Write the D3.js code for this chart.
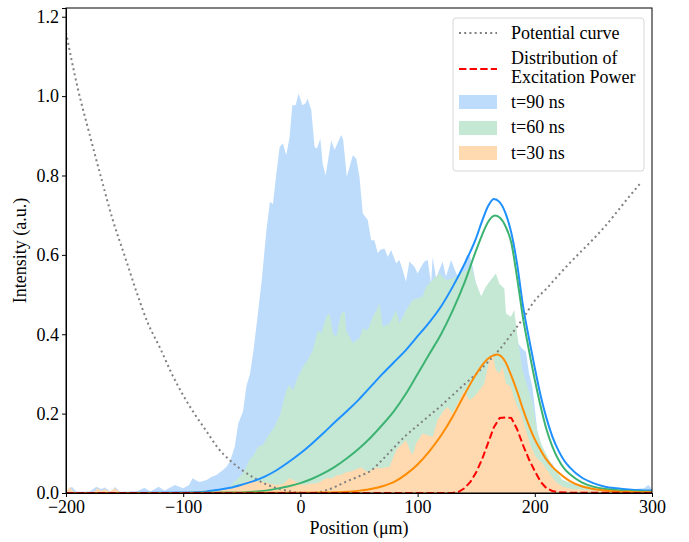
<!DOCTYPE html>
<html>
<head>
<meta charset="UTF-8">
<title>Intensity vs Position</title>
<script src="https://d3js.org/d3.v7.min.js"></script>
<style>
    body { margin: 0; padding: 0; background: #fff; }
    .tick line, .domain { stroke: #000; }
</style>
</head>
<body>
<svg id="chart" width="689" height="542"></svg>
<script>
// ---- data ----
const xTicks = [-200, -100, 0, 100, 200, 300];
const yTicks = [0.0, 0.2, 0.4, 0.6, 0.8, 1.0, 1.2];

// potential curve (dotted gray)
const potential = [[-200,1.16],[-190,1.02],[-180,0.905],[-170,0.794],[-160,0.687],[-150,0.598],[-140,0.508],
    [-130,0.427],[-120,0.367],[-110,0.302],[-100,0.246],[-90,0.198],[-80,0.155],[-70,0.112],[-60,0.082],
    [-50,0.058],[-40,0.039],[-30,0.023],[-20,0.012],[-10,0.005],[0,0.001],[10,0.0],[20,0.005],[30,0.016],
    [40,0.03],[50,0.042],[60,0.056],[70,0.084],[80,0.115],[90,0.145],[100,0.17],[110,0.195],[120,0.22],
    [130,0.247],[140,0.274],[150,0.30],[160,0.33],[170,0.362],[180,0.40],[190,0.44],[200,0.485],[210,0.515],
    [220,0.548],[230,0.58],[240,0.61],[250,0.64],[260,0.672],[270,0.708],[280,0.745],[290,0.78]];

// excitation power (red dashed)
const excitation = [[-200,0],[130,0],[135,0.003],[140,0.012],[145,0.028],[150,0.052],[155,0.085],[160,0.125],
    [165,0.165],[170,0.189],[175,0.19],[180,0.189],[185,0.16],[190,0.12],[195,0.085],[200,0.055],[205,0.028],
    [210,0.012],[215,0.005],[220,0.002],[230,0.001],[300,0]];

// fitted curves
const fit90 = [[-200,0],[-120,0.0005],[-100,0.001],[-90,0.002],[-80,0.004],[-70,0.008],[-60,0.013],[-50,0.021],
    [-40,0.03],[-30,0.042],[-20,0.058],[-10,0.078],[0,0.10],[10,0.125],[20,0.152],[30,0.18],[40,0.207],
    [50,0.236],[60,0.268],[70,0.30],[80,0.33],[90,0.36],[100,0.395],[110,0.43],[120,0.47],[130,0.52],
    [140,0.577],[150,0.643],[155,0.685],[160,0.722],[165,0.741],[170,0.733],[175,0.705],[180,0.655],
    [185,0.575],[190,0.47],[195,0.39],[200,0.315],[205,0.245],[210,0.188],[215,0.142],[220,0.108],
    [225,0.082],[230,0.064],[240,0.039],[250,0.025],[260,0.016],[270,0.012],[280,0.009],[290,0.007],[300,0.006]];

const fit60 = [[-200,0],[-100,0.0003],[-60,0.001],[-50,0.0015],[-40,0.003],[-30,0.006],[-20,0.011],[-10,0.017],
    [0,0.025],[10,0.036],[20,0.05],[30,0.067],[40,0.088],[50,0.112],[60,0.14],[70,0.172],[80,0.207],
    [90,0.25],[100,0.30],[110,0.35],[120,0.40],[130,0.46],[140,0.53],[150,0.612],[155,0.65],[160,0.682],
    [166,0.699],[170,0.694],[175,0.672],[180,0.63],[185,0.54],[190,0.44],[195,0.36],[200,0.285],
    [205,0.218],[210,0.16],[215,0.117],[220,0.085],[225,0.062],[230,0.047],[240,0.027],[250,0.016],
    [260,0.01],[270,0.007],[280,0.005],[290,0.004],[300,0.003]];

const fit30 = [[-200,0],[0,0.0005],[20,0.001],[40,0.003],[50,0.006],[60,0.01],[70,0.017],[80,0.028],[90,0.047],
    [100,0.072],[110,0.105],[120,0.145],[130,0.193],[140,0.248],[150,0.30],[160,0.338],[168,0.349],
    [175,0.33],[180,0.295],[185,0.255],[190,0.21],[195,0.17],[200,0.135],[205,0.108],[210,0.084],
    [215,0.066],[220,0.052],[225,0.04],[230,0.03],[240,0.017],[250,0.01],[260,0.006],[270,0.004],
    [280,0.003],[290,0.002],[300,0.002]];

// measured distributions (filled)
const t90 = [[-200,0.005],[-195,0.016],[-191,0.003],[-180,0.004],[-174,0.016],[-170,0.01],[-167,0.014],
    [-162,0.004],[-158,0.015],[-154,0.003],[-140,0.004],[-133,0.013],[-128,0.004],[-121,0.016],[-116,0.006],
    [-107,0.02],[-100,0.012],[-95,0.02],[-92,0.037],[-88,0.03],[-86,0.028],[-80,0.033],[-76,0.04],
    [-72,0.045],[-66,0.058],[-63,0.066],[-60,0.08],[-56,0.117],[-53,0.176],[-49,0.205],[-46,0.27],
    [-43,0.30],[-40,0.36],[-37.6,0.419],[-33,0.536],[-29,0.662],[-26,0.734],[-23.4,0.728],[-20.5,0.805],
    [-17.7,0.872],[-14.9,0.881],[-12.1,0.851],[-9.2,0.897],[-6.9,0.977],[-4.1,0.977],[-1.5,1.007],
    [1.6,0.977],[4.4,0.982],[6.1,0.994],[9.3,0.965],[12.1,0.872],[14.1,0.868],[17,0.893],[19,0.83],
    [21.5,0.80],[26.3,0.889],[29.1,0.864],[34.8,0.902],[36.5,0.89],[39.6,0.797],[44.7,0.851],[47.6,0.843],
    [50.4,0.797],[53.2,0.705],[57.5,0.688],[60.4,0.637],[63.2,0.637],[66,0.604],[68,0.612],[71.7,0.616],
    [74.6,0.595],[77.4,0.612],[81.7,0.579],[84.5,0.587],[87.3,0.562],[90.1,0.532],[93,0.583],[97.3,0.57],
    [100,0.553],[103,0.57],[105.8,0.583],[108.6,0.587],[111.5,0.528],[112.9,0.595],[115.7,0.541],
    [121.4,0.583],[124.2,0.545],[128.5,0.587],[134.2,0.545],[138.4,0.562],[141.3,0.595],[144.1,0.604],
    [147,0.57],[149.8,0.528],[154.1,0.495],[158,0.47],[162,0.455],[166,0.45],[170,0.44],[175,0.43],
    [180,0.41],[185,0.38],[189,0.365],[192.4,0.356],[195.2,0.30],[198,0.268],[202,0.16],[206,0.115],
    [210,0.085],[213,0.07],[215,0.075],[218,0.05],[222,0.035],[228,0.025],[235,0.02],[245,0.015],
    [255,0.012],[265,0.012],[275,0.01],[285,0.01],[293,0.012],[297,0.02],[300,0.01]];

const t60 = [[-200,0],[-100,0],[-70,0.004],[-62,0.012],[-57.5,0.024],[-52,0.041],[-49,0.05],[-43.3,0.085],
    [-40,0.095],[-36,0.117],[-32,0.121],[-28,0.142],[-22.1,0.167],[-17,0.2],[-12.1,0.259],[-9.2,0.272],
    [-6.4,0.259],[-2.1,0.293],[2.1,0.318],[6.4,0.335],[10.6,0.36],[14.9,0.41],[17.8,0.402],[22.1,0.444],
    [24.9,0.453],[27.8,0.402],[30.6,0.394],[34.8,0.453],[37.7,0.457],[39.1,0.41],[44.7,0.377],[47.6,0.385],
    [50.4,0.39],[53.2,0.415],[57.5,0.41],[61.8,0.444],[65,0.461],[67.5,0.478],[70.3,0.419],[76,0.427],
    [81.7,0.461],[84.5,0.427],[90.1,0.461],[95.8,0.486],[100,0.49],[104.3,0.495],[107.2,0.52],
    [112.9,0.537],[118.6,0.553],[124.2,0.537],[130,0.54],[135.6,0.553],[141.3,0.56],[145.6,0.575],
    [149.8,0.53],[154.1,0.495],[158.3,0.52],[162.6,0.537],[166.8,0.553],[169.7,0.528],[174,0.515],
    [175.4,0.453],[179.6,0.444],[182.4,0.461],[185.3,0.394],[189.5,0.31],[193.8,0.268],[198,0.226],
    [202.3,0.15],[206.5,0.117],[212.3,0.083],[218,0.058],[223.7,0.033],[232,0.024],[245,0.018],
    [260,0.012],[280,0.01],[300,0.008]];

const t30 = [[-200,0.002],[-197,0.015],[-193,0.002],[-176,0.003],[-173,0.012],[-170,0.005],[-167,0.01],
    [-163,0.003],[-158,0.012],[-154,0.002],[-120,0.002],[-100,0.003],[-90,0.005],[-80,0.006],[-70,0.008],
    [-60,0.01],[-55,0.015],[-51.8,0.02],[-45,0.03],[-40.5,0.033],[-34,0.028],[-29,0.026],[-24,0.022],
    [-20.5,0.02],[-15,0.022],[-9.2,0.037],[-5,0.03],[-0.7,0.024],[2.1,0.02],[6,0.022],[10.6,0.024],
    [13.5,0.024],[18,0.03],[22.1,0.037],[27.7,0.037],[30.6,0.045],[34,0.045],[39.1,0.052],[44,0.055],
    [49,0.062],[52,0.064],[56.1,0.054],[61.8,0.058],[64.5,0.065],[67.5,0.062],[72,0.064],[76,0.066],
    [81.7,0.108],[84.5,0.117],[87.3,0.125],[90.1,0.133],[93,0.11],[95.8,0.096],[98.7,0.125],[104.3,0.15],
    [108,0.146],[112.9,0.142],[117.1,0.184],[122.8,0.209],[125.6,0.217],[129.9,0.2],[134.2,0.226],
    [139.9,0.259],[144.1,0.234],[148.4,0.243],[152.7,0.259],[156.9,0.276],[161.2,0.335],[164,0.348],
    [166.8,0.31],[169.7,0.302],[172.5,0.318],[175.4,0.276],[179.6,0.268],[183.9,0.226],[188.1,0.2],
    [192.4,0.159],[196.7,0.117],[200.9,0.091],[206.5,0.075],[212.3,0.05],[218,0.028],[223.7,0.016],
    [232,0.01],[250,0.006],[270,0.004],[300,0.003]];

const legendLabels = ["Potential curve", ["Distribution of", "Excitation Power"], "t=90 ns", "t=60 ns", "t=30 ns"];

// ---- layout ----
const FONT = "'Liberation Serif', 'Times New Roman', Tinos, serif";
const FS = 18;
const svg = d3.select("#chart");
const margin = { top: 8, right: 37, bottom: 49, left: 66 };
const width = 689 - margin.left - margin.right;
const height = 542 - margin.top - margin.bottom;

const x = d3.scaleLinear().domain([-200, 300]).range([0, width]);
const y = d3.scaleLinear().domain([0, 1.222]).range([height, 0]);

const g = svg.append("g").attr("transform", `translate(${margin.left},${margin.top})`);

g.append("clipPath").attr("id", "clip")
    .append("rect").attr("width", width).attr("height", height);

const plot = g.append("g").attr("clip-path", "url(#clip)");

const area = d3.area().x(d => x(d[0])).y0(y(0)).y1(d => y(d[1]));
const smooth = d3.line().x(d => x(d[0])).y(d => y(d[1])).curve(d3.curveMonotoneX);
const straight = d3.line().x(d => x(d[0])).y(d => y(d[1]));

const fillBlue = "#bddcfc", fillGreen = "#c5e8d5", fillOrange = "#ffd9b0";

// fills
plot.append("path").datum(t90).attr("d", area).attr("fill", fillBlue);
plot.append("path").datum(t60).attr("d", area).attr("fill", fillGreen);
plot.append("path").datum(t30).attr("d", area).attr("fill", fillOrange);

// potential curve
plot.append("path").datum(potential).attr("d", smooth)
    .attr("fill", "none").attr("stroke", "#808080").attr("stroke-width", 2)
    .attr("stroke-dasharray", "2,3.2");

// fit lines
plot.append("path").datum(fit90).attr("d", smooth)
    .attr("fill", "none").attr("stroke", "#1e90ff").attr("stroke-width", 2);
plot.append("path").datum(fit60).attr("d", smooth)
    .attr("fill", "none").attr("stroke", "#3cb371").attr("stroke-width", 2);
plot.append("path").datum(fit30).attr("d", smooth)
    .attr("fill", "none").attr("stroke", "#ff8c00").attr("stroke-width", 2);

// excitation
plot.append("path").datum(excitation).attr("d", straight)
    .attr("fill", "none").attr("stroke", "#ff0000").attr("stroke-width", 2)
    .attr("stroke-dasharray", "7.4,3.2");

// axes
const fmtX = d => d < 0 ? "\u2212" + Math.abs(d) : String(d);
const xAxis = g.append("g").attr("transform", `translate(0,${height})`)
    .call(d3.axisBottom(x).tickValues(xTicks).tickFormat(fmtX).tickSizeOuter(0).tickSize(4).tickPadding(3));
const yAxis = g.append("g")
    .call(d3.axisLeft(y).tickValues(yTicks).tickFormat(d3.format(".1f")).tickSizeOuter(0).tickSize(4).tickPadding(3));

[xAxis, yAxis].forEach(a => a.attr("font-family", FONT).attr("font-size", FS));
g.selectAll(".tick text").attr("fill", "#000");

// frame
g.append("rect").attr("width", width).attr("height", height)
    .attr("fill", "none").attr("stroke", "#000").attr("stroke-width", 1);

// axis labels
svg.append("text").attr("x", margin.left + width / 2).attr("y", 534)
    .attr("text-anchor", "middle").attr("font-family", FONT).attr("font-size", FS).text("Position (\u03bcm)");
svg.append("text").attr("transform", `translate(26,${margin.top + height / 2}) rotate(-90)`)
    .attr("text-anchor", "middle").attr("font-family", FONT).attr("font-size", FS).text("Intensity (a.u.)");

// legend
const leg = svg.append("g");
leg.append("rect").attr("x", 453).attr("y", 18).attr("width", 191).attr("height", 153)
    .attr("rx", 3).attr("fill", "#fff").attr("fill-opacity", 0.85)
    .attr("stroke", "#d6d6d6").attr("stroke-width", 1);

const hx0 = 459, hx1 = 497, tx = 511;
leg.append("line").attr("x1", hx0).attr("x2", hx1).attr("y1", 33).attr("y2", 33)
    .attr("stroke", "#808080").attr("stroke-width", 2).attr("stroke-dasharray", "2,3.2");
leg.append("line").attr("x1", hx0).attr("x2", hx1).attr("y1", 69).attr("y2", 69)
    .attr("stroke", "#ff0000").attr("stroke-width", 2).attr("stroke-dasharray", "7.4,3.2");
[[95, fillBlue], [121, fillGreen], [146, fillOrange]].forEach(([yy, c]) => {
    leg.append("rect").attr("x", hx0).attr("y", yy).attr("width", hx1 - hx0).attr("height", 14).attr("fill", c);
});

const textRows = [[39, legendLabels[0]], [64, legendLabels[1][0]], [83, legendLabels[1][1]],
    [108, legendLabels[2]], [133, legendLabels[3]], [158.5, legendLabels[4]]];
textRows.forEach(([yy, t]) => {
    leg.append("text").attr("x", tx).attr("y", yy).attr("font-family", FONT)
        .attr("font-size", FS).text(t);
});
</script>
</body>
</html>
